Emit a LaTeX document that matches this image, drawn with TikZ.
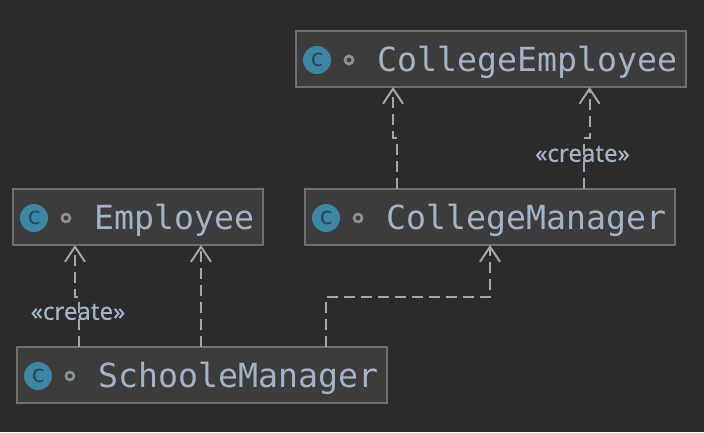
\documentclass[tikz,border=0pt]{standalone}
\usepackage{fontspec}
\setmonofont{DejaVu Sans Mono}
\newfontfamily\labelfont[FakeBold=0.35]{Noto Sans}
\usetikzlibrary{arrows.meta}
\definecolor{canvasbg}{HTML}{2B2B2B}
\definecolor{boxbg}{HTML}{3C3C3C}
\definecolor{boxline}{HTML}{707070}
\definecolor{nametext}{HTML}{A3B4C9}
\definecolor{badgefill}{HTML}{3D87A5}
\definecolor{badgetext}{HTML}{28495A}
\definecolor{ringcolor}{HTML}{8A9499}
\definecolor{depcolor}{HTML}{A6A6A6}
\tikzset{
  classbox/.style={draw=boxline,fill=boxbg,line width=2pt,inner sep=0pt,outer sep=0pt,minimum height=56pt},
  badge/.style={circle,fill=badgefill,text=badgetext,minimum size=28pt,inner sep=0pt,font=\ttfamily\fontsize{24}{24}\selectfont},
  ring/.style={circle,draw=ringcolor,line width=2.6pt,minimum size=8pt,inner sep=0pt},
  classname/.style={anchor=base west,inner sep=0pt,text=nametext,font=\ttfamily\fontsize{33.2}{33.2}\selectfont},
  deplabel/.style={inner sep=0pt,text=nametext,font=\labelfont\fontsize{24}{24}\selectfont},
  depline/.style={draw=depcolor,line width=2pt,dash pattern=on 11pt off 6pt,-{Straight Barb[length=15pt,width=20pt,line width=2pt]}},
}
\begin{document}
\begin{tikzpicture}[x=1pt,y=-1pt]
                \fill[canvasbg] (0,0) rectangle (704,432);
                \useasboundingbox (0,0) rectangle (704,432);
                \node[classbox,minimum width=390pt] (ce) at (491,59) {};
                \node[badge] (ce badge) at (317,60) {c};
                \node[ring] (ce ring) at (349,60) {};
                \node[classname] (ce name) at (377,71) {CollegeEmployee};
                \node[classbox,minimum width=370pt] (cm) at (490,217) {};
                \node[badge] (cm badge) at (326,218) {c};
                \node[ring] (cm ring) at (358,218) {};
                \node[classname] (cm name) at (386,229) {CollegeManager};
                \node[classbox,minimum width=250pt] (emp) at (138,217) {};
                \node[badge] (emp badge) at (34,218) {c};
                \node[ring] (emp ring) at (66,218) {};
                \node[classname] (emp name) at (94,229) {Employee};
                \node[classbox,minimum width=370pt] (sm) at (202,375) {};
                \node[badge] (sm badge) at (38,376) {c};
                \node[ring] (sm ring) at (70,376) {};
                \node[classname] (sm name) at (98,387) {SchooleManager};
                % bends of the dependency lines
                \coordinate (a1) at (78.5,296.5);
                \coordinate (a2) at (75,296.5);
                \coordinate (b1) at (201,296.5);
                \coordinate (c1) at (326,296.5);
                \coordinate (c2) at (490,296.5);
                \coordinate (d1) at (397,138);
                \coordinate (d2) at (393,138);
                \coordinate (e1) at (583.5,138);
                \coordinate (e2) at (589.5,138);
                \draw[depline] (a1 |- sm.north) to (a1) to (a2) to (a2 |- emp.south);
                \draw[depline] (b1 |- sm.north) to (b1 |- emp.south);
                \draw[depline] (c1 |- sm.north) to (c1) to (c2) to (c2 |- cm.south);
                \draw[depline] (d1 |- cm.north) to (d1) to (d2) to (d2 |- ce.south);
                \draw[depline] (e1 |- cm.north) to (e1) to (e2) to (e2 |- ce.south);
                \node[deplabel] (a label) at (78,312) {«create»};
                \node[deplabel] (e label) at (582.5,154) {«create»};
\end{tikzpicture}
\end{document}
